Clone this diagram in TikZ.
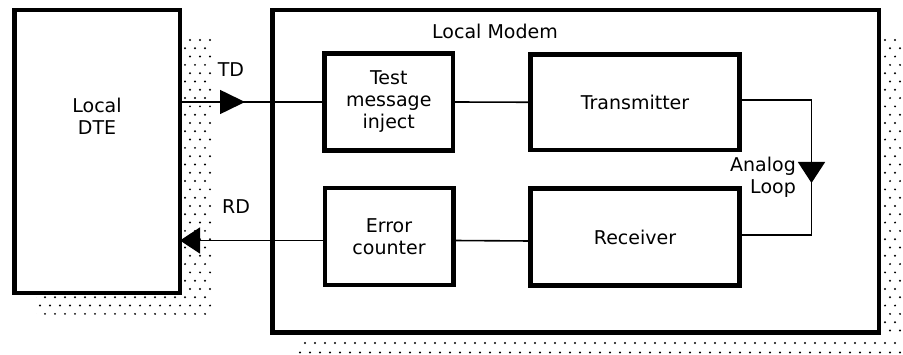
\documentclass[tikz,border=0pt]{standalone}
\usepackage{fontspec}
\setmainfont{DejaVu Sans}
\usetikzlibrary{arrows.meta,decorations.markings}
\begin{document}
\begin{tikzpicture}[x=1pt,y=-1pt,
  box/.style={draw, line width=4.5pt, inner sep=0pt, outer sep=0pt, align=center, font=\fontsize{19}{22}\selectfont},
  conn/.style={line width=1.6pt},
  txt/.style={font=\fontsize{19}{22}\selectfont, inner sep=0pt, align=center},
  dotc/.style={fill=black},
]
\useasboundingbox (0,0) rectangle (903,355);
% shadows
\begin{scope}
\clip (184,36) -- (212,36) -- (212,319) -- (36,319) -- (36,296) -- (184,296) -- cycle;
\foreach \j in {0,...,33} {
  \foreach \i in {0,...,18} {
    \fill[dotc] ({30+10*\i+5*mod(\j,2)}, {40+8.3*\j}) circle (1.1pt);
  }
}
\end{scope}
\foreach \j in {0,...,35} {
  \foreach \i in {0,...,2} {
    \fill[dotc] ({885+10*\i+5*mod(\j,2)}, {40+8.3*\j}) circle (1.1pt);
  }
}
\foreach \i in {0,...,60} {
  \fill[dotc] ({305+10*\i}, 343) circle (1.1pt);
  \fill[dotc] ({300+10*\i}, 352.5) circle (1.1pt);
}
% boxes
\node[box, minimum width=165.5pt, minimum height=283pt] (dte) at (97.25,151.5) {};
\node[txt] (dtetext) at (97,116) {Local\\DTE};
\node[box, minimum width=606.5pt, minimum height=322.5pt] (modem) at (575.75,171.25) {};
\node[txt] (modemtext) at (495,31) {Local Modem};
\node[box, minimum width=128.5pt, minimum height=97pt] (test) at (388.75,102) {Test\\message\\inject};
\node[box, minimum width=209pt, minimum height=95.5pt] (tx) at (635,102.25) {Transmitter};
\node[box, minimum width=128.5pt, minimum height=97pt] (err) at (389,236.5) {Error\\counter};
\node[box, minimum width=209pt, minimum height=97pt] (rx) at (635,237) {Receiver};
% labels
\node[txt] (tdtext) at (231,70) {TD};
\node[txt] (rdtext) at (236,207) {RD};
\node[txt, align=right, anchor=east] (looptext) at (796,177) {Analog\\Loop};
% connectors
\draw[conn, postaction={decorate}, decoration={markings, mark=at position 65pt with {\arrow{Triangle[length=25pt,width=24pt]}}}]
  (dte.east |- test.west) -- (test.west);
\coordinate (errw) at ([yshift=-4pt]err.west);
\coordinate (erre) at ([yshift=-4pt]err.east);
\coordinate (rxw) at ([yshift=-4pt]rx.west);
\draw[conn, -{Triangle[length=20pt,width=26pt]}] (errw) -- (dte.east |- errw);
\draw[conn] (test.east) -- (tx.west);
\draw[conn] (erre) -- (rxw);
\coordinate (lp) at (811.5,0);
\coordinate (txo) at ([yshift=2.25pt]tx.east);
\coordinate (rxo) at ([yshift=2pt]rx.east);
\draw[conn, postaction={decorate}, decoration={markings, mark=at position 155pt with {\arrow{Triangle[length=21pt,width=27pt]}}}]
  (txo) -| (lp |- rxo) -- (rxo);
\end{tikzpicture}
\end{document}
